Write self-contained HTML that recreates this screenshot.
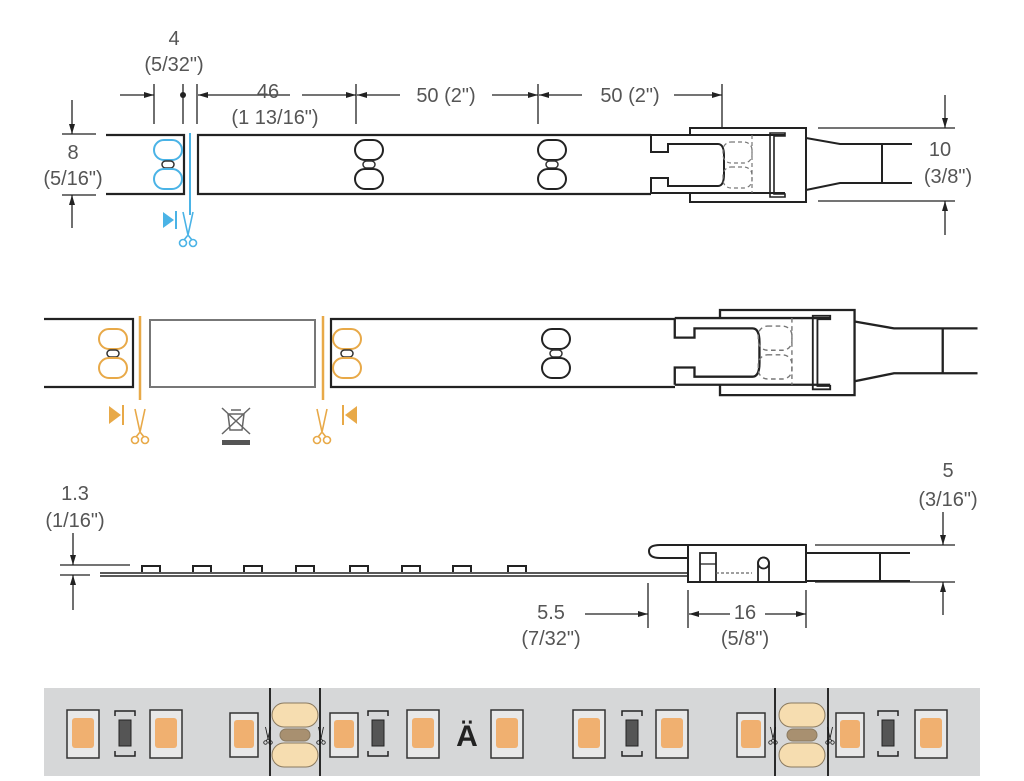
<!DOCTYPE html>
<html><head><meta charset="utf-8"><style>
html,body{margin:0;padding:0;background:#fff;}
svg{display:block;}
text{font-family:"Liberation Sans",sans-serif;fill:#555;font-size:20px;text-anchor:middle;}
</style></head><body>
<svg width="1024" height="781" viewBox="0 0 1024 781" xmlns="http://www.w3.org/2000/svg">
<defs>
<marker id="ar" viewBox="0 0 10 6" refX="10" refY="3" markerWidth="12" markerHeight="6" markerUnits="userSpaceOnUse" orient="auto"><path d="M0 0L10 3L0 6Z" fill="#222"/></marker>
<g id="conn" fill="none" stroke="#222" stroke-width="2">
<path d="M-39 7V24H-22V16H28Q34 16 34 28V46Q34 58 28 58H-22V50H-39V65"/>
<path d="M-39 7H95M-39 65H95"/>
<path d="M0 7V0H116V74H0V65"/>
<path d="M95 5H80V69H95V66H84V8H95Z" stroke-width="1.6"/>
<g stroke="#777" stroke-width="1.2" stroke-dasharray="4 3"><rect x="33" y="14" width="29" height="21" rx="8"/><rect x="33" y="39" width="29" height="21" rx="8"/><path d="M62 7V65"/></g>
<path d="M116 10L150 16H222M116 62L150 55H222M192 16V55"/>
</g>
<g id="pad" fill="none" stroke-width="2"><rect x="-14" y="-24" width="28" height="20" rx="10"/><rect x="-6" y="-3" width="12" height="7" rx="3.5" stroke="#333" stroke-width="1.5"/><rect x="-14" y="5" width="28" height="20" rx="10"/></g>
<g id="sc" fill="none" stroke-width="1.6"><path d="M-5 -16L0 7M5 -16L0 7M0 7L-4 12M0 7L4 12"/><circle cx="-5" cy="15" r="3.5"/><circle cx="5" cy="15" r="3.5"/></g>
</defs>

<!-- ===== TOP VIEW ===== -->
<g stroke="#222" stroke-width="1.3" fill="none">
<path d="M154 84V124M183 84V124M197 84V124M356 84V124M538 84V124M722 84V128"/>
<path d="M120 95H154" marker-end="url(#ar)"/>
<path d="M290 95H198" marker-end="url(#ar)"/><path d="M302 95H356" marker-end="url(#ar)"/>
<path d="M400 95H357" marker-end="url(#ar)"/><path d="M492 95H538" marker-end="url(#ar)"/>
<path d="M582 95H539" marker-end="url(#ar)"/><path d="M674 95H722" marker-end="url(#ar)"/>
<path d="M62 134H96M62 195H96"/>
<path d="M72 100V134" marker-end="url(#ar)"/><path d="M72 228V195" marker-end="url(#ar)"/>
<path d="M818 128H955M818 201H955"/>
<path d="M945 95V128" marker-end="url(#ar)"/><path d="M945 235V201" marker-end="url(#ar)"/>
</g>
<circle cx="183" cy="95" r="3" fill="#222"/>
<text x="174" y="45">4</text><text x="174" y="71">(5/32")</text>
<text x="268" y="98">46</text><text x="275" y="124">(1 13/16")</text>
<text x="446" y="102">50 (2")</text><text x="630" y="102">50 (2")</text>
<text x="73" y="159">8</text><text x="73" y="185">(5/16")</text>
<text x="940" y="156">10</text><text x="948" y="183">(3/8")</text>

<path d="M106 135H184V194H106" fill="none" stroke="#222" stroke-width="2.2"/>
<path d="M651 135H198V194H651" fill="none" stroke="#222" stroke-width="2.2"/>
<line x1="190" y1="133" x2="190" y2="215" stroke="#4ab3e6" stroke-width="2"/>
<use href="#pad" x="168" y="164" stroke="#4ab3e6"/>
<use href="#pad" x="369" y="164" stroke="#222"/>
<use href="#pad" x="552" y="164" stroke="#222"/>
<path d="M163 212L174 220L163 228Z" fill="#4ab3e6"/><path d="M176 211V229" stroke="#4ab3e6" stroke-width="2"/>
<use href="#sc" x="188" y="228" stroke="#4ab3e6"/>
<use href="#conn" transform="translate(690,128)"/>

<!-- ===== MIDDLE VIEW ===== -->
<path d="M44 319H133V387H44" fill="none" stroke="#222" stroke-width="2.2"/>
<rect x="150" y="320" width="165" height="67" fill="none" stroke="#777" stroke-width="2"/>
<path d="M675 319H331V387H675" fill="none" stroke="#222" stroke-width="2.2"/>
<line x1="140" y1="316" x2="140" y2="400" stroke="#e8a948" stroke-width="2.5"/>
<line x1="323" y1="316" x2="323" y2="400" stroke="#e8a948" stroke-width="2.5"/>
<use href="#pad" x="113" y="353" stroke="#e8a948"/>
<use href="#pad" x="347" y="353" stroke="#e8a948"/>
<use href="#pad" x="556" y="353" stroke="#222"/>
<path d="M109 406L121 415L109 424Z" fill="#e8a948"/><path d="M123 405V425" stroke="#e8a948" stroke-width="2"/>
<path d="M357 406L345 415L357 424Z" fill="#e8a948"/><path d="M343 405V425" stroke="#e8a948" stroke-width="2"/>
<use href="#sc" x="140" y="425" stroke="#e8a948"/>
<use href="#sc" x="322" y="425" stroke="#e8a948"/>
<g stroke="#666" stroke-width="1.5" fill="none"><path d="M222 408L250 434M250 408L222 434M228 414H244L242 430H230Z M231 410H241"/></g>
<rect x="222" y="440" width="28" height="5" fill="#555"/>
<use href="#conn" transform="translate(720,310) scale(1.16,1.15)"/>

<!-- ===== SIDE VIEW ===== -->
<text x="75" y="500">1.3</text><text x="75" y="527">(1/16")</text>
<g stroke="#222" stroke-width="1.3" fill="none">
<path d="M73 533V565" marker-end="url(#ar)"/><path d="M73 610V575" marker-end="url(#ar)"/>
<path d="M60 565H130M60 575H90"/>
<path d="M100 573H688M100 576H688" stroke-width="1.5"/>
<path d="M142 572V566H160V572M193 572V566H211V572M244 572V566H262V572M296 572V566H314V572M350 572V566H368V572M402 572V566H420V572M453 572V566H471V572M508 572V566H526V572" stroke-width="2"/>
<path d="M688 558H660Q649 558 649 551Q649 545 660 545H688" stroke-width="2"/>
<rect x="688" y="545" width="118" height="37" stroke-width="2"/>
<rect x="700" y="553" width="16" height="29" stroke-width="1.8"/><path d="M700 564H716"/>
<path d="M758 582V563A5.5 5.5 0 0 1 769 563V582" stroke-width="1.8"/><circle cx="763.5" cy="563" r="5.5" stroke-width="1.8"/>
<path d="M716 573H752" stroke-dasharray="3 2" stroke="#666"/>
<path d="M806 553H910M806 581H910M880 553V581" stroke-width="2"/>
<path d="M815 545H955M815 582H955"/>
<path d="M943 512V545" marker-end="url(#ar)"/><path d="M943 615V582" marker-end="url(#ar)"/>
<path d="M648 583V628M688 590V628M806 590V628"/>
<path d="M585 614H648" marker-end="url(#ar)"/>
<path d="M730 614H689" marker-end="url(#ar)"/><path d="M765 614H806" marker-end="url(#ar)"/>
</g>
<text x="948" y="477">5</text><text x="948" y="506">(3/16")</text>
<text x="551" y="619">5.5</text><text x="551" y="645">(7/32")</text>
<text x="745" y="619">16</text><text x="745" y="645">(5/8")</text>

<!-- ===== PHOTO STRIP ===== -->
<rect x="44" y="688" width="936" height="88" fill="#d6d7d8"/>
<g fill="none" stroke="#2a2a2a" stroke-width="2">
<path d="M270 688V776M320 688V776M775 688V776M828 688V776"/>
</g>
<g fill="#f0b070" stroke="#333" stroke-width="1.5">
<rect x="67" y="710" width="32" height="48" fill="#e8e8e8"/><rect x="72" y="718" width="22" height="30" rx="3" stroke="none"/>
<rect x="150" y="710" width="32" height="48" fill="#e8e8e8"/><rect x="155" y="718" width="22" height="30" rx="3" stroke="none"/>
<rect x="230" y="713" width="28" height="44" fill="#e8e8e8"/><rect x="234" y="720" width="20" height="28" rx="3" stroke="none"/>
<rect x="330" y="713" width="28" height="44" fill="#e8e8e8"/><rect x="334" y="720" width="20" height="28" rx="3" stroke="none"/>
<rect x="407" y="710" width="32" height="48" fill="#e8e8e8"/><rect x="412" y="718" width="22" height="30" rx="3" stroke="none"/>
<rect x="491" y="710" width="32" height="48" fill="#e8e8e8"/><rect x="496" y="718" width="22" height="30" rx="3" stroke="none"/>
<rect x="573" y="710" width="32" height="48" fill="#e8e8e8"/><rect x="578" y="718" width="22" height="30" rx="3" stroke="none"/>
<rect x="656" y="710" width="32" height="48" fill="#e8e8e8"/><rect x="661" y="718" width="22" height="30" rx="3" stroke="none"/>
<rect x="737" y="713" width="28" height="44" fill="#e8e8e8"/><rect x="741" y="720" width="20" height="28" rx="3" stroke="none"/>
<rect x="836" y="713" width="28" height="44" fill="#e8e8e8"/><rect x="840" y="720" width="20" height="28" rx="3" stroke="none"/>
<rect x="915" y="710" width="32" height="48" fill="#e8e8e8"/><rect x="920" y="718" width="22" height="30" rx="3" stroke="none"/>
</g>
<g fill="#555" stroke="#222" stroke-width="1">
<rect x="119" y="720" width="12" height="26"/><rect x="372" y="720" width="12" height="26"/><rect x="626" y="720" width="12" height="26"/><rect x="882" y="720" width="12" height="26"/>
</g>
<g fill="none" stroke="#222" stroke-width="1.5">
<path d="M115 716V711H135V716M115 751V756H135V751M368 716V711H388V716M368 751V756H388V751M622 716V711H642V716M622 751V756H642V751M878 716V711H898V716M878 751V756H898V751"/>
</g>
<g stroke="#8a7a60" stroke-width="1">
<rect x="272" y="703" width="46" height="24" rx="12" fill="#f6ddb0"/>
<rect x="280" y="729" width="30" height="12" rx="6" fill="#a89070"/>
<rect x="272" y="743" width="46" height="24" rx="12" fill="#f6ddb0"/>
<rect x="779" y="703" width="46" height="24" rx="12" fill="#f6ddb0"/>
<rect x="787" y="729" width="30" height="12" rx="6" fill="#a89070"/>
<rect x="779" y="743" width="46" height="24" rx="12" fill="#f6ddb0"/>
</g>
<g fill="none" stroke="#111" stroke-width="1.5">
<use href="#sc" transform="translate(268 735) scale(0.5)"/>
<use href="#sc" transform="translate(321 735) scale(0.5)"/>
<use href="#sc" transform="translate(773 735) scale(0.5)"/>
<use href="#sc" transform="translate(830 735) scale(0.5)"/>
</g>
<text x="467" y="746" style="font-size:30px;font-weight:bold;fill:#222">Ä</text>
</svg>
</body></html>
